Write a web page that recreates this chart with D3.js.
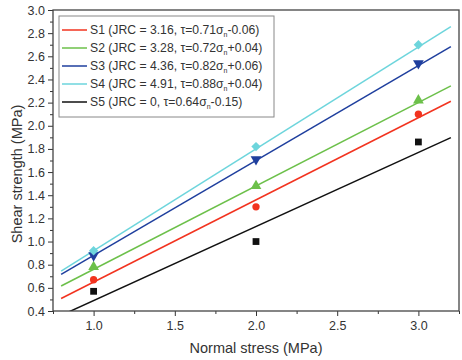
<!DOCTYPE html>
<html>
<head>
<meta charset="utf-8">
<script src="https://cdn.jsdelivr.net/npm/d3@7"></script>
<style>
  body { margin: 0; background: #fff; }
  text { font-family: "Liberation Sans", Arial, sans-serif; fill: #333; }
</style>
</head>
<body>
<div id="chart"></div>
<script>
const stress = [1.0, 2.0, 3.0];
const seriesNames = ["S1", "S2", "S3", "S4", "S5"];
const jrc = ["3.16", "3.28", "4.36", "4.91", "0"];
const slopes = [0.71, 0.72, 0.82, 0.88, 0.64];
const intercepts = [-0.06, 0.04, 0.06, 0.04, -0.15];
const s1 = [0.67, 1.30, 2.10];
const s2 = [0.78, 1.48, 2.22];
const s3 = [0.88, 1.71, 2.54];
const s4 = [0.92, 1.82, 2.70];
const s5 = [0.57, 1.00, 1.86];
const fitRange = [0.8, 3.2];
const xTicks = [1.0, 1.5, 2.0, 2.5, 3.0];
const yTicks = [0.4, 0.6, 0.8, 1.0, 1.2, 1.4, 1.6, 1.8, 2.0, 2.2, 2.4, 2.6, 2.8, 3.0];

const values = [s1, s2, s3, s4, s5];
const colors = ["#f2331f", "#6cc04a", "#1f3f9e", "#6dd5dc", "#111111"];
const symbols = [d3.symbolCircle, d3.symbolTriangle, d3.symbolTriangle, d3.symbolSquare, d3.symbolSquare];
const symSize = [42, 50, 50, 44, 46];
const symRot = [0, 0, 180, 45, 0];

const width = 462, height = 360;
const margin = { top: 10, right: 3, bottom: 49, left: 53 };
const iw = width - margin.left - margin.right;
const ih = height - margin.top - margin.bottom;

const svg = d3.select("#chart").append("svg")
  .attr("width", width).attr("height", height);

const x = d3.scaleLinear().domain([0.75, 3.25]).range([0, iw]);
const y = d3.scaleLinear().domain([0.4, 3.0]).range([ih, 0]);

const g = svg.append("g").attr("transform", `translate(${margin.left},${margin.top})`);

g.append("clipPath").attr("id", "clip")
  .append("rect").attr("width", iw).attr("height", ih);

// minor ticks
const xMinor = d3.range(0.75, 3.26, 0.25).filter(v => !xTicks.some(t => Math.abs(t - v) < 1e-6));
const yMinor = d3.range(0.5, 3.0, 0.2);

g.append("g").attr("transform", `translate(0,${ih})`)
  .call(d3.axisBottom(x).tickValues(xMinor).tickSize(3).tickFormat(""))
  .call(a => a.select(".domain").remove())
  .selectAll("line").attr("stroke", "#333");
g.append("g")
  .call(d3.axisLeft(y).tickValues(yMinor).tickSize(3).tickFormat(""))
  .call(a => a.select(".domain").remove())
  .selectAll("line").attr("stroke", "#333");

const xAxis = g.append("g").attr("transform", `translate(0,${ih})`)
  .call(d3.axisBottom(x).tickValues(xTicks).tickSize(5).tickPadding(5).tickFormat(d3.format(".1f")));
xAxis.select(".domain").remove();
xAxis.selectAll("line").attr("stroke", "#333");
xAxis.selectAll("text").attr("font-size", 12.5).style("font-family", "Liberation Sans, Arial, sans-serif").attr("fill", "#333");

const yAxis = g.append("g")
  .call(d3.axisLeft(y).tickValues(yTicks).tickSize(5).tickPadding(3).tickFormat(d3.format(".1f")));
yAxis.select(".domain").remove();
yAxis.selectAll("line").attr("stroke", "#333");
yAxis.selectAll("text").attr("font-size", 12.5).style("font-family", "Liberation Sans, Arial, sans-serif").attr("fill", "#333");

// fitted lines
const plot = g.append("g").attr("clip-path", "url(#clip)");
seriesNames.forEach((name, i) => {
  const pts = fitRange.map(s => [s, slopes[i] * s + intercepts[i]]);
  plot.append("path")
    .attr("d", d3.line().x(d => x(d[0])).y(d => y(d[1]))(pts))
    .attr("fill", "none").attr("stroke", colors[i]).attr("stroke-width", 1.5);
});

// markers
seriesNames.forEach((name, i) => {
  values[i].forEach((v, j) => {
    plot.append("path")
      .attr("d", d3.symbol().type(symbols[i]).size(symSize[i])())
      .attr("transform", `translate(${x(stress[j])},${y(v)}) rotate(${symRot[i]})`)
      .attr("fill", colors[i]);
  });
});

// frame
g.append("rect").attr("width", iw).attr("height", ih)
  .attr("fill", "none").attr("stroke", "#444").attr("stroke-width", 1.3);

// axis titles
svg.append("text")
  .attr("x", 256).attr("y", 353)
  .attr("text-anchor", "middle").attr("font-size", 14.5)
  .text("Normal stress (MPa)");
svg.append("text")
  .attr("transform", "translate(22,174) rotate(-90)")
  .attr("text-anchor", "middle").attr("font-size", 14.5)
  .text("Shear strength (MPa)");

// legend
const lg = g.append("g").attr("transform", "translate(6,6)");
lg.append("rect").attr("width", 215).attr("height", 101)
  .attr("fill", "#fff").attr("stroke", "#888").attr("stroke-width", 1);
seriesNames.forEach((name, i) => {
  const ly = 14 + i * 18;
  lg.append("line").attr("x1", 3).attr("x2", 28).attr("y1", ly).attr("y2", ly)
    .attr("stroke", colors[i]).attr("stroke-width", 1.5);
  const b = intercepts[i];
  const sign = b < 0 ? "-" : "+";
  const t = lg.append("text").attr("x", 31).attr("y", ly + 4).attr("font-size", 12.2);
  t.append("tspan").text(`${name} (JRC = ${jrc[i]}, \u03c4=${slopes[i].toFixed(2)}\u03c3`);
  t.append("tspan").attr("font-size", 7).attr("dy", 3).text("n");
  t.append("tspan").attr("dy", -3).text(`${sign}${Math.abs(b).toFixed(2)})`);
});
</script>
</body>
</html>
